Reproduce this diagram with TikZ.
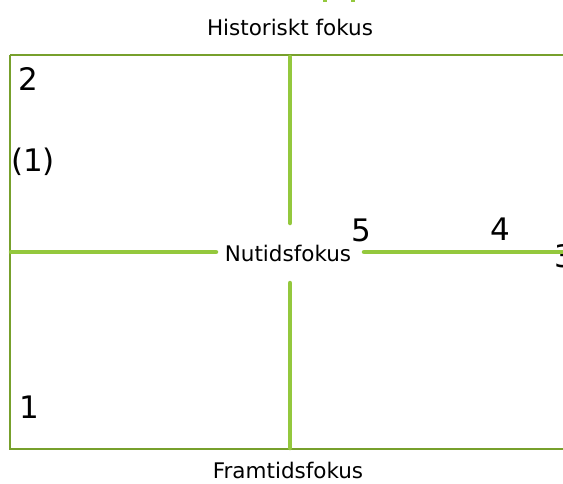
\documentclass[tikz,border=0pt]{standalone}
\usepackage{fontspec}
\setmainfont{DejaVu Sans}
\definecolor{framegreen}{HTML}{77A02C}
\definecolor{axisgreen}{HTML}{94C83D}
\tikzset{
  frame/.style={draw=framegreen, line width=2pt},
  axis/.style={draw=axisgreen, line width=4.5pt, line cap=round},
  lbl/.style={font=\fontsize{21.5}{25}\selectfont, inner sep=0pt},
  num/.style={font=\fontsize{31}{35}\selectfont, inner sep=0pt},
}
\begin{document}
\begin{tikzpicture}[x=1pt,y=-1pt]
\useasboundingbox (0,0) rectangle (563,483);
\begin{scope}
\clip (0,0) rectangle (563,483);
% frame
\draw[frame] (10,55) -- (10,449) -- (600,449);
\draw[frame] (10,55) -- (600,55);
% cropped marks at top
\fill[axisgreen] (323,0) rectangle (327,2);
\fill[axisgreen] (351,0) rectangle (355,2);
% texts
\node[lbl] (hist) at (290,27) {Historiskt fokus};
\node[lbl] (nu) at (288,253) {Nutidsfokus};
\node[lbl] (fram) at (288,470) {Framtidsfokus};
\node[num] (n2) at (28,79) {2};
\node[num] (n1p) at (33,162) {(1)};
\node[num] (n1) at (29,407) {1};
\node[num] (n5) at (361,230) {5};
\node[num] (n4) at (500,229) {4};
\node[num] (n3) at (564,256) {3};
% axes
\coordinate (topT) at (290,57);
\coordinate (topB) at (290,223);
\coordinate (botT) at (290,283);
\coordinate (botB) at (290,448);
\coordinate (leftL) at (11,252);
\coordinate (leftR) at (216,252);
\coordinate (rightL) at (364,252);
\coordinate (rightR) at (600,252);
\draw[axis] (topT) -- (topB);
\draw[axis] (botT) -- (botB);
\draw[axis] (leftL) -- (leftR);
\draw[axis] (rightL) -- (rightR);
\end{scope}
\end{tikzpicture}
\end{document}
